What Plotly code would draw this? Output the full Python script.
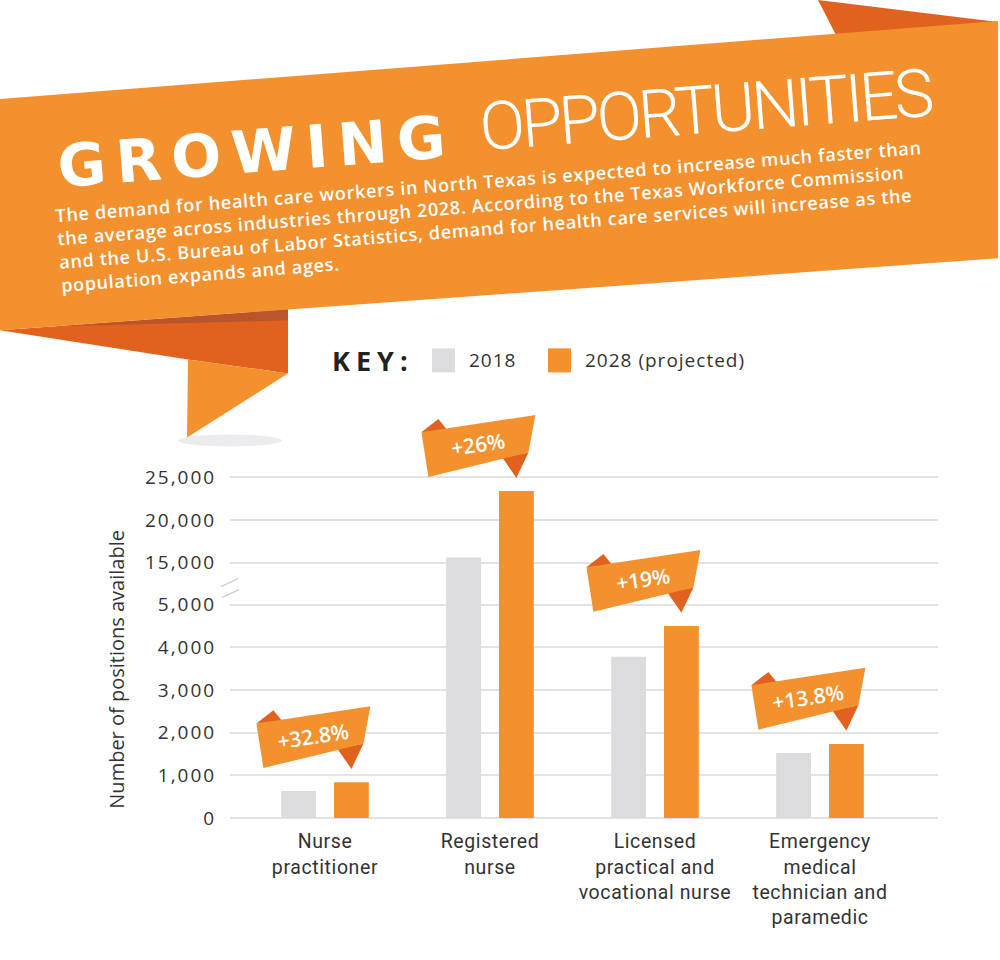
import plotly.graph_objects as go

categories = ["Nurse<br>practitioner", "Registered<br>nurse",
              "Licensed<br>practical and<br>vocational nurse",
              "Emergency<br>medical<br>technician and<br>paramedic"]
jobs_2018 = [630, 15600, 3780, 1525]
jobs_2028 = [837, 23400, 4500, 1735]
growth = ["+32.8%", "+26%", "+19%", "+13.8%"]
low_ticks = [0, 1000, 2000, 3000, 4000, 5000]
high_ticks = [15000, 20000, 25000]
series = ["2018", "2028 (projected)"]

title_bold = "GROWING"
title_thin = "OPPORTUNITIES"
intro = ("The demand for health care workers in North Texas is expected to increase much faster than<br>"
         "the average across industries through 2028. According to the Texas Workforce Commission<br>"
         "and the U.S. Bureau of Labor Statistics, demand for health care services will increase as the<br>"
         "population expands and ages.")

W, H = 1000, 974
S = H / 960  # the page is photographed slightly squeezed vertically
GRAY = "#DCDCDE"
ORANGE = "#F3912F"
DARK = "#E0621E"
TEXT = "#333333"
GRID = "#E3E3E5"
SANS = "Open Sans, Roboto, sans-serif"

# target pixel layout of the broken axis
Y0, Y5K, BRK, Y15K, Y25K, TOP = 817, 604, 583, 562, 477, 395
BARGAP = 0.36
OFF = (1 - BARGAP) / 4  # centre of the orange bar inside its group


def fx(px):
    return px / W


def fy(py):
    return 1 - py / 960


def fpx(py):
    return round(py * S)


def fyd(py):
    return 1 - fpx(py) / H


def ppath(pts):
    return "M " + " L ".join(f"{fx(x):.5f},{fy(y):.5f}" for x, y in pts) + " Z"


def spaced(s, ls):
    return "<br>".join(f'<span style="letter-spacing:{ls}px">{part}</span>' for part in s.split("<br>"))


low_unit = (Y0 - Y5K) * S / 5000          # fig px per job below the break
high_unit = (Y15K - Y25K) * S / 10000     # fig px per job above the break
lower_range = [0, (fpx(Y0) - fpx(BRK)) / low_unit]
helper_range = [0, (fpx(Y0) - fpx(TOP)) / low_unit]
upper_range = [15000 - (fpx(BRK) - Y15K * S) / high_unit,
               25000 + (Y25K * S - fpx(TOP)) / high_unit]
xpos = list(range(len(categories)))
xrange_ = [-(325 - 230) / 165, (938 - 325) / 165]

fig = go.Figure()
for xa, ya in [("x", "y"), ("x2", "y2")]:
    fig.add_trace(go.Bar(x=xpos, y=jobs_2018, name=series[0], marker_color=GRAY,
                         marker_line_width=0, xaxis=xa, yaxis=ya, showlegend=False))
    fig.add_trace(go.Bar(x=xpos, y=jobs_2028, name=series[1], marker_color=ORANGE,
                         marker_line_width=0, xaxis=xa, yaxis=ya, showlegend=False))
# invisible layer that carries the growth callouts across the break
fig.add_trace(go.Bar(x=xpos, y=jobs_2028, opacity=0, hoverinfo="skip", showlegend=False,
                     xaxis="x3", yaxis="y3"))

ytick = dict(ticks="outside", ticklen=9, tickcolor="rgba(0,0,0,0)",
             tickfont=dict(family=SANS, size=19, color=TEXT),
             gridcolor=GRID, gridwidth=1.5, showline=False)
fig.update_layout(
    width=W, height=H, margin=dict(l=0, r=0, t=0, b=0),
    paper_bgcolor="white", plot_bgcolor="rgba(0,0,0,0)",
    barmode="group", bargap=BARGAP, bargroupgap=0.34,
    xaxis=dict(domain=[fx(230), fx(938)], range=xrange_, anchor="y",
               tickvals=xpos, ticktext=[spaced(c, 0.6) for c in categories],
               showgrid=False, zeroline=False,
               ticks="outside", ticklen=6, tickcolor="rgba(0,0,0,0)",
               tickfont=dict(family="Roboto", size=19.5, color=TEXT)),
    xaxis2=dict(domain=[fx(230), fx(938)], range=xrange_, anchor="y2", matches="x",
                showticklabels=False, showgrid=False, zeroline=False),
    xaxis3=dict(domain=[fx(230), fx(938)], range=xrange_, anchor="y3", matches="x", visible=False),
    yaxis=dict(domain=[fyd(Y0), fyd(BRK)], range=lower_range, anchor="x",
               tickvals=low_ticks, ticktext=[spaced(f"{t:,}", 2) for t in low_ticks],
               zeroline=True, zerolinecolor=GRID, zerolinewidth=2, **ytick),
    yaxis2=dict(domain=[fyd(BRK), fyd(TOP)], range=upper_range, anchor="x2",
                tickvals=high_ticks, ticktext=[spaced(f"{t:,}", 2) for t in high_ticks],
                zeroline=False, **ytick),
    yaxis3=dict(domain=[fyd(Y0), fyd(TOP)], range=helper_range, anchor="x3", visible=False),
)

P = dict(xref="paper", yref="paper", line_width=0)
shapes = []
# banner
shapes.append(dict(P, type="path", path=ppath([(818, 0), (836, 35), (998, 22)]), fillcolor=DARK))
shapes.append(dict(P, type="circle", x0=fx(178), x1=fx(282), y0=fy(446), y1=fy(434),
                   fillcolor="rgba(120,120,135,0.14)"))
shapes.append(dict(P, type="path", path=ppath([(0, 330), (288, 309), (288, 373), (188, 359)]), fillcolor=DARK))
shapes.append(dict(P, type="path", path=ppath([(60, 326), (288, 309), (288, 320)]), fillcolor="#B9552B"))
shapes.append(dict(P, type="path", path=ppath([(188, 359), (288, 373), (187, 437)]), fillcolor=ORANGE))
shapes.append(dict(P, type="path", path=ppath([(0, 99), (998, 21), (998, 258), (0, 330)]), fillcolor=ORANGE))
# key swatches
shapes.append(dict(P, type="rect", x0=fx(432), x1=fx(455), y0=fy(372), y1=fy(348), fillcolor=GRAY))
shapes.append(dict(P, type="rect", x0=fx(548), x1=fx(571), y0=fy(372), y1=fy(348), fillcolor=ORANGE))
# left axis line with break
shapes.append(dict(P, type="line", x0=fx(230), x1=fx(230), y0=fy(Y25K), y1=fy(Y0),
                   line=dict(color=GRID, width=1.5)))
shapes.append(dict(P, type="path", path=ppath([(222, 588), (238, 580), (238, 591), (222, 599)]),
                   fillcolor="white"))
for a, b in [((221, 586), (238, 578)), ((222, 597), (239, 589))]:
    shapes.append(dict(xref="paper", yref="paper", type="line", x0=fx(a[0]), y0=fy(a[1]),
                       x1=fx(b[0]), y1=fy(b[1]), line=dict(color="#D0D0D2", width=1.5)))


def pix(pts):
    return "M " + " L ".join(f"{x},{-y * S:.1f}" for x, y in pts) + " Z"


annotations = []
for i, (v, lab) in enumerate(zip(jobs_2028, growth)):
    xr, yr = ("x2", "y2") if v > 5000 else ("x3", "y3")
    base = dict(type="path", xref=xr, yref=yr, xsizemode="pixel", ysizemode="pixel",
                xanchor=i + OFF, yanchor=v, line_width=0, layer="above")
    shapes.append(dict(base, path=pix([(-95, -58), (-78, -71), (-69, -60)]), fillcolor=DARK))
    shapes.append(dict(base, path=pix([(-14, -33), (12, -38), (0, -13)]), fillcolor=DARK))
    shapes.append(dict(base, path=pix([(-95, -58), (19, -75), (12, -38), (-88, -14)]), fillcolor=ORANGE))
    annotations.append(dict(xref=xr, yref=yr, x=i + OFF, y=v, xshift=-38, yshift=46 * S,
                            xanchor="center", yanchor="middle",
                            text=lab, showarrow=False, textangle=-8.5,
                            font=dict(family=SANS, size=21, color="white", weight=600)))

A = dict(xref="paper", yref="paper", showarrow=False, xanchor="center", yanchor="middle")
annotations += [
    dict(A, x=fx(256), y=fy(151), text=spaced(title_bold, 10),
         textangle=-4.4, font=dict(family="DejaVu Sans", size=59, color="white", weight=700)),
    dict(A, x=fx(706), y=fy(110), text=spaced(title_thin, -3.5),
         textangle=-4.4, font=dict(family="Roboto", size=67, color="white", weight=300)),
    dict(A, x=fx(491), y=fy(216), text=spaced(intro, 0.7), align="left",
         textangle=-4.5, font=dict(family=SANS, size=18, color="white", weight=600)),
    dict(A, x=fx(416), y=fy(360), xanchor="right", text=spaced("KEY:", 6),
         font=dict(family=SANS, size=27, color="#222222", weight=700)),
    dict(A, x=fx(467), y=fy(360), xanchor="left", text=spaced(series[0], 1),
         font=dict(family=SANS, size=19, color=TEXT)),
    dict(A, x=fx(583), y=fy(360), xanchor="left", text=spaced(series[1], 1),
         font=dict(family=SANS, size=19, color=TEXT)),
    dict(A, x=fx(117), y=fy(669), text="Number of positions available",
         textangle=-90, font=dict(family=SANS, size=20, color=TEXT)),
]

fig.update_layout(shapes=shapes, annotations=annotations)
fig.write_html("out.html", config={"displayModeBar": False},
               post_script="document.body.style.margin='0';")
